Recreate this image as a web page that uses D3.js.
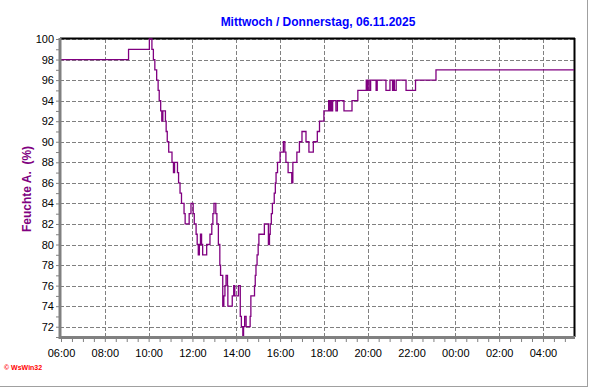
<!DOCTYPE html>
<html>
<head>
<meta charset="utf-8">
<script src="https://cdn.jsdelivr.net/npm/d3@7"></script>
<style>
	body { margin: 0; background: #fff; }
	svg { display: block; font-family: "Liberation Sans", Arial, sans-serif; }
</style>
</head>
<body>
<div id="chart"></div>
<script>
// humidity readings, change points only (value holds until next time)
var times = ["06:00","09:05","10:02","10:09","10:13","10:17","10:22","10:26","10:29","10:33",
	"10:36","10:39","10:46","10:48","10:51","10:55","11:04","11:08","11:11","11:19",
	"11:22","11:26","11:30","11:37","11:40","11:51","11:56","12:02","12:05","12:10",
	"12:13","12:16","12:19","12:22","12:25","12:28","12:39","12:48","12:53","12:56",
	"12:59","13:04","13:07","13:11","13:15","13:17","13:23","13:26","13:29","13:32",
	"13:36","13:37","13:49","13:53","13:56","14:06","14:11","14:14","14:18","14:20",
	"14:23","14:27","14:38","14:40","14:50","14:52","14:54","14:57","15:00","15:02",
	"15:17","15:28","15:31","15:33","15:36","15:39","15:44","15:47","15:49","15:53",
	"16:00","16:09","16:13","16:16","16:22","16:32","16:35","16:46","16:53","17:00",
	"17:11","17:19","17:31","17:42","17:48","18:00","18:13","18:16","18:19","18:22",
	"18:24","18:33","18:37","18:55","19:17","19:33","19:56","19:57","20:00","20:04",
	"20:08","20:23","20:26","20:50","21:01","21:08","21:10","21:13","21:18","21:45",
	"22:11","23:07","05:25"]
var humidity = [98,99,100,99,98,97,96,95,94,93,
	92,93,92,91,90,89,88,87,88,87,
	86,85,84,83,82,83,84,83,82,81,
	80,79,80,81,80,79,80,81,82,83,
	84,83,82,80,78,77,74,75,76,77,
	76,74,75,76,75,76,73,72,71,72,
	73,72,73,75,76,77,78,79,80,81,
	82,80,81,82,83,84,85,86,87,88,
	89,90,89,88,87,86,88,89,90,91,
	90,89,90,91,92,93,94,93,94,93,
	94,93,94,93,94,95,96,95,96,95,
	96,95,96,95,96,95,96,95,96,95,
	96,97,97]
var xTickLabels = ["06:00","08:00","10:00","12:00","14:00","16:00","18:00","20:00","22:00","00:00","02:00","04:00"]
var yTickValues = [72,74,76,78,80,82,84,86,88,90,92,94,96,98,100]
var title = "Mittwoch / Donnerstag, 06.11.2025"
var yLabel = "Feuchte A.  (%)"

// times before 06:00 belong to the next day
function toDate(s) {
	var h = +s.split(":")[0], m = +s.split(":")[1]
	return new Date(2025, 10, h < 6 ? 6 : 5, h, m)
}

var data = times.map(function(t, i) { return { dt: toDate(t), v: humidity[i] } })

var svgWidth = 592, svgHeight = 387
var plot = { left: 60, top: 39, right: 574, bottom: 337 }

var svg = d3.select("#chart").append("svg")
	.attr("width", svgWidth)
	.attr("height", svgHeight)

var x = d3.scaleTime()
	.domain([toDate("06:00"), toDate("05:25")])
	.range([plot.left + 1, plot.right])
var y = d3.scaleLinear()
	.domain([71, 100])
	.range([plot.bottom, plot.top])

// grid
var xTicks = xTickLabels.map(toDate)
svg.append("g").selectAll("line")
	.data(xTicks.slice(1))
	.enter().append("line")
	.attr("x1", d => Math.round(x(d)) + 0.5)
	.attr("x2", d => Math.round(x(d)) + 0.5)
	.attr("y1", plot.top).attr("y2", plot.bottom)
	.attr("stroke", "#808080")
	.attr("stroke-dasharray", "4,2")
svg.append("g").selectAll("line")
	.data(yTickValues)
	.enter().append("line")
	.attr("x1", plot.left).attr("x2", plot.right)
	.attr("y1", d => Math.round(y(d)) + 0.5)
	.attr("y2", d => Math.round(y(d)) + 0.5)
	.attr("stroke", "#808080")
	.attr("stroke-dasharray", "4,2")

// frame: black top/right
svg.append("line").attr("x1", plot.left).attr("x2", plot.right + 1).attr("y1", plot.top - 0.5).attr("y2", plot.top - 0.5)
	.attr("stroke", "#000").attr("stroke-width", 2)
svg.append("line").attr("x1", plot.right + 0.5).attr("x2", plot.right + 0.5).attr("y1", plot.top - 1).attr("y2", plot.bottom)
	.attr("stroke", "#000").attr("stroke-width", 2)

// line
svg.append("path")
	.datum(data)
	.attr("fill", "none")
	.attr("stroke", "#800080")
	.attr("stroke-width", 1.3)
	.attr("d", d3.line()
		.curve(d3.curveStepAfter)
		.x(d => x(d.dt))
		.y(d => y(d.v)))

// x axis
var xAxisCall = d3.axisBottom(x)
	.tickValues(d3.timeMinute.every(30).range(toDate("06:00"), toDate("05:26")))
	.tickSize(4)
	.tickFormat(d => d.getMinutes() === 0 && d.getHours() % 2 === 0 ? d3.timeFormat("%H:%M")(d) : "")
var xg = svg.append("g")
	.attr("transform", "translate(0," + (plot.bottom + 1) + ")")
	.call(xAxisCall)
xg.select(".domain").remove()
xg.selectAll("line").attr("stroke", "#808080")
xg.selectAll("text").attr("font-size", "11px").attr("fill", "#000").attr("dy", "1.05em")

// y axis
var yAxisCall = d3.axisLeft(y)
	.tickValues(d3.range(71, 101))
	.tickSize(3)
	.tickFormat(d => yTickValues.indexOf(d) >= 0 ? d : "")
var yg = svg.append("g")
	.attr("transform", "translate(" + (plot.left - 1) + ",0)")
	.call(yAxisCall)
yg.select(".domain").remove()
yg.selectAll("line").attr("stroke", "#808080")
yg.selectAll("text").attr("font-size", "11px").attr("fill", "#000").attr("x", -5)

// gray left/bottom axis lines
svg.append("line").attr("x1", plot.left).attr("x2", plot.left).attr("y1", plot.top - 1).attr("y2", plot.bottom + 2)
	.attr("stroke", "#808080").attr("stroke-width", 3)
svg.append("line").attr("x1", plot.left - 1).attr("x2", plot.right + 1).attr("y1", plot.bottom + 0.5).attr("y2", plot.bottom + 0.5)
	.attr("stroke", "#808080").attr("stroke-width", 3)

// labels
svg.append("text")
	.attr("x", 318)
	.attr("y", 26)
	.attr("text-anchor", "middle")
	.attr("font-size", "12px")
	.attr("font-weight", "bold")
	.attr("fill", "#0000ff")
	.text(title)
svg.append("text")
	.attr("transform", "translate(31,189) rotate(-90)")
	.attr("text-anchor", "middle")
	.attr("font-size", "12px")
	.attr("font-weight", "bold")
	.attr("fill", "#800080")
	.style("white-space", "pre")
	.text(yLabel)
svg.append("text")
	.attr("x", 4)
	.attr("y", 370)
	.attr("font-size", "7px")
	.attr("font-weight", "bold")
	.attr("fill", "#ff0000")
	.text("\u00a9 WsWin32")

// outer border
svg.append("line").attr("x1", 0).attr("x2", 587.5).attr("y1", 386.5).attr("y2", 386.5).attr("stroke", "#a0a0a0")
svg.append("line").attr("x1", 587.5).attr("x2", 587.5).attr("y1", 0).attr("y2", 387).attr("stroke", "#a0a0a0")
</script>
</body>
</html>
